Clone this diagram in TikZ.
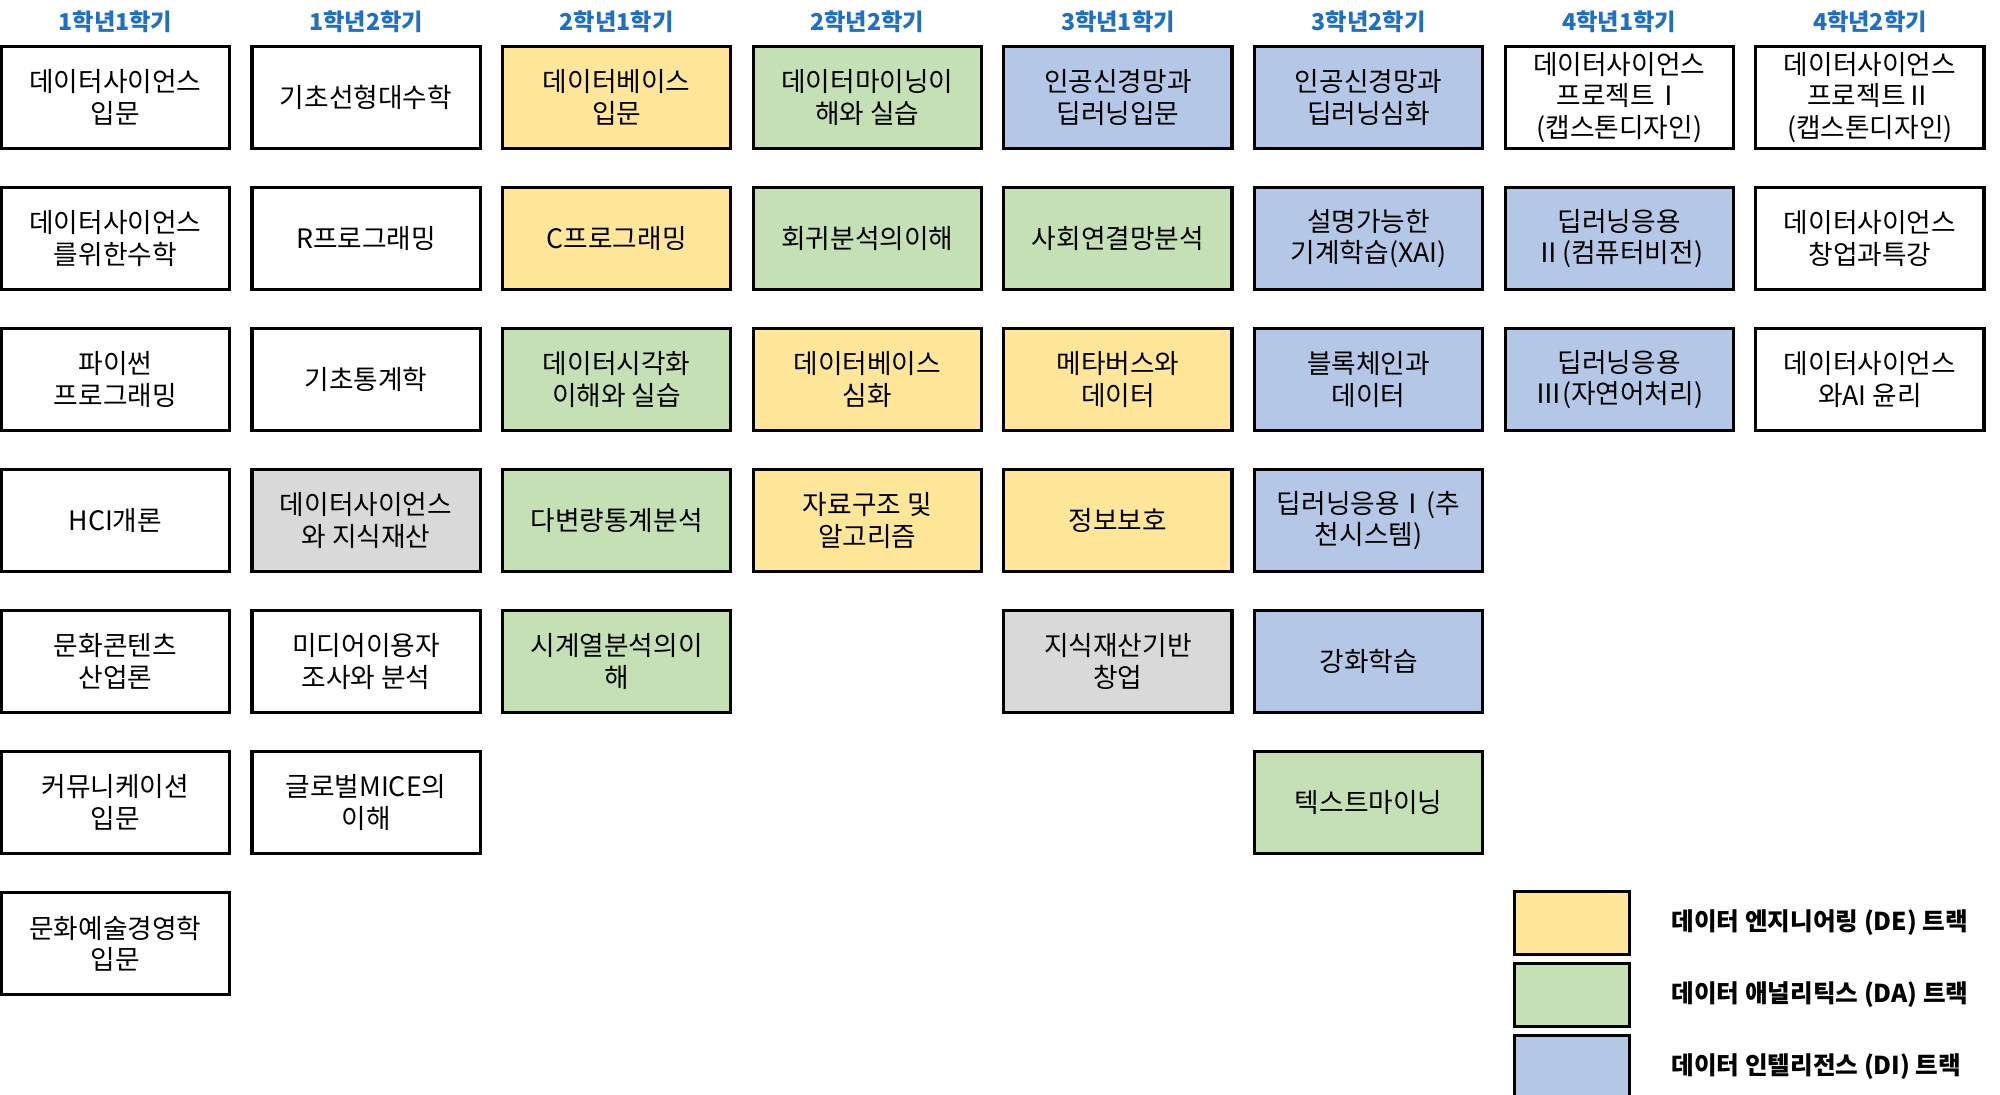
\documentclass[tikz,border=0pt]{standalone}
\usepackage{fontspec}
\setmainfont{Noto Sans CJK KR}
\usetikzlibrary{positioning}
\definecolor{deyellow}{HTML}{FFE699}
\definecolor{dagreen}{HTML}{C5E0B4}
\definecolor{diblue}{HTML}{B4C7E7}
\definecolor{kgray}{HTML}{D9D9D9}
\definecolor{headblue}{HTML}{1F6FC5}
\tikzset{
  course/.style={draw,line width=0.9pt,minimum width=178*0.01282cm,minimum height=80*0.01282cm,
    inner sep=0pt,align=center,font=\fontsize{7.6}{9}\selectfont},
  term/.style={font=\bfseries\fontsize{6.6}{8}\selectfont,text=headblue},
  legbox/.style={draw,line width=0.9pt,minimum width=90*0.01282cm,minimum height=49*0.01282cm,inner sep=0pt},
  legtext/.style={font=\bfseries\fontsize{7}{8}\selectfont,anchor=west}
}
\begin{document}
\begin{tikzpicture}[x=0.01282cm,y=-0.01282cm]
\useasboundingbox (0,0) rectangle (1560,854);
% headers
\foreach \c/\t in {0/1학년1학기,1/1학년2학기,2/2학년1학기,3/2학년2학기,4/3학년1학기,5/3학년2학기,6/4학년1학기,7/4학년2학기}
  \node[term] (h\c) at (90+195.5*\c,17) {\t};
% courses: column/row/fill/text
\foreach \c/\r/\f/\t in {
  0/0/white/데이터사이언스\\입문, 0/1/white/데이터사이언스\\를위한수학, 0/2/white/파이썬\\프로그래밍,
  0/3/white/HCI개론, 0/4/white/문화콘텐츠\\산업론, 0/5/white/커뮤니케이션\\입문, 0/6/white/문화예술경영학\\입문,
  1/0/white/기초선형대수학, 1/1/white/R프로그래밍, 1/2/white/기초통계학,
  1/3/kgray/데이터사이언스\\와 지식재산, 1/4/white/미디어이용자\\조사와 분석, 1/5/white/글로벌MICE의\\이해,
  2/0/deyellow/데이터베이스\\입문, 2/1/deyellow/C프로그래밍, 2/2/dagreen/데이터시각화\\이해와 실습,
  2/3/dagreen/다변량통계분석, 2/4/dagreen/시계열분석의이\\해,
  3/0/dagreen/데이터마이닝이\\해와 실습, 3/1/dagreen/회귀분석의이해, 3/2/deyellow/데이터베이스\\심화,
  3/3/deyellow/자료구조 및\\알고리즘,
  4/0/diblue/인공신경망과\\딥러닝입문, 4/1/dagreen/사회연결망분석, 4/2/deyellow/메타버스와\\데이터,
  4/3/deyellow/정보보호, 4/4/kgray/지식재산기반\\창업,
  5/0/diblue/인공신경망과\\딥러닝심화, 5/1/diblue/설명가능한\\기계학습(XAI), 5/2/diblue/블록체인과\\데이터,
  5/3/diblue/딥러닝응용Ⅰ(추\\천시스템), 5/4/diblue/강화학습, 5/5/dagreen/텍스트마이닝,
  6/0/white/데이터사이언스\\프로젝트Ⅰ\\(캡스톤디자인), 6/1/diblue/딥러닝응용\\Ⅱ(컴퓨터비전),
  6/2/diblue/딥러닝응용\\Ⅲ(자연어처리),
  7/0/white/데이터사이언스\\프로젝트Ⅱ\\(캡스톤디자인), 7/1/white/데이터사이언스\\창업과특강,
  7/2/white/데이터사이언스\\와AI 윤리}
  \node[course,fill=\f] (c\c-\r) at (90+195.5*\c,76+110*\r) {\t};
% legend
\node[legbox,fill=deyellow] (lde) at (1226,720) {};
\node[legbox,fill=dagreen] (lda) at (1226,776) {};
\node[legbox,fill=diblue] (ldi) at (1226,832) {};
\node[legtext,right=8pt of lde] {데이터 엔지니어링 (DE) 트랙};
\node[legtext,right=8pt of lda] {데이터 애널리틱스 (DA) 트랙};
\node[legtext,right=8pt of ldi] {데이터 인텔리전스 (DI) 트랙};
\end{tikzpicture}
\end{document}
